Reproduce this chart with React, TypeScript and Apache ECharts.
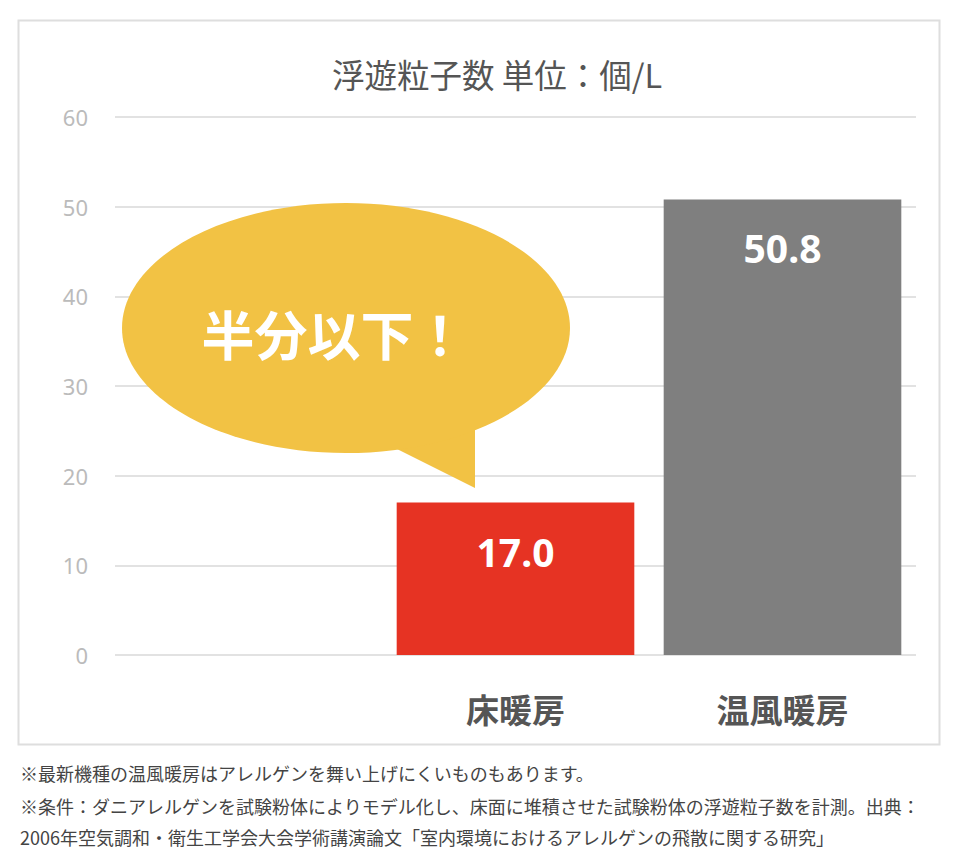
import { useEffect, useRef } from 'react';
import * as echarts from 'echarts';

const categories = ['', '床暖房', '温風暖房'];
const values: (number | null)[] = [null, 17.0, 50.8];
const barColors = ['#E63323', '#E63323', '#7F7F7F'];
const yTicks = { min: 0, max: 60, interval: 10 };

const title = '浮遊粒子数 単位：個/L';
const bubbleText = '半分以下！';
const notes = [
  '※最新機種の温風暖房はアレルゲンを舞い上げにくいものもあります。',
  '※条件：ダニアレルゲンを試験粉体によりモデル化し、床面に堆積させた試験粉体の浮遊粒子数を計測。出典：',
  '2006年空気調和・衛生工学会大会学術講演論文「室内環境におけるアレルゲンの飛散に関する研究」',
];

const FONT = '"Noto Sans CJK JP", "Noto Sans", sans-serif';

export default function App() {
  const ref = useRef<HTMLDivElement>(null);

  useEffect(() => {
    const dom = ref.current!;
    const chart = echarts.init(dom, null, { renderer: 'svg' });

    const noteY = [773, 806, 837];

    chart.setOption({
      animation: false,
      backgroundColor: '#fff',
      textStyle: { fontFamily: FONT },
      grid: { left: 115, right: 48, top: 117, bottom: 205 },
      xAxis: {
        type: 'category',
        data: categories,
        axisLine: { show: false },
        axisTick: { show: false },
        axisLabel: {
          margin: 37,
          fontSize: 33,
          fontWeight: 'bold',
          color: '#555',
          fontFamily: FONT,
        },
      },
      yAxis: {
        type: 'value',
        min: yTicks.min,
        max: yTicks.max,
        interval: yTicks.interval,
        axisLine: { show: false },
        axisTick: { show: false },
        axisLabel: { margin: 27, fontSize: 22, color: '#bbb', fontFamily: '"Noto Sans", sans-serif' },
        splitLine: { lineStyle: { color: '#e2e2e2', width: 2 } },
      },
      series: [
        {
          type: 'bar',
          barCategoryGap: '11%',
          data: values.map((v, i) => ({ value: v, itemStyle: { color: barColors[i] } })),
          label: {
            show: true,
            position: 'insideTop',
            distance: 29,
            color: '#fff',
            fontSize: 39,
            fontWeight: 'bold',
            fontFamily: '"Noto Sans", sans-serif',
            formatter: (p: any) => (p.value == null ? '' : Number(p.value).toFixed(1)),
          },
        },
      ],
      graphic: [
        {
          type: 'rect',
          shape: { x: 18.5, y: 20.5, width: 921, height: 724 },
          style: { fill: 'none', stroke: '#dedede', lineWidth: 2 },
          silent: true,
        },
        {
          type: 'text',
          x: 497,
          y: 73,
          style: {
            text: title,
            fill: '#555',
            fontSize: 32.5,
            fontFamily: FONT,
            align: 'center',
            verticalAlign: 'middle',
          },
        },
        {
          type: 'polygon',
          shape: { points: [[395, 448], [475, 488], [475, 425]] },
          style: { fill: '#F2C244' },
          z: 10,
        },
        {
          type: 'ellipse',
          shape: { cx: 346, cy: 328, rx: 224, ry: 125 },
          style: { fill: '#F2C244' },
          z: 10,
        },
        {
          type: 'text',
          x: 334,
          y: 333,
          z: 11,
          style: {
            text: bubbleText,
            fill: '#fff',
            fontSize: 53,
            fontWeight: 'bold',
            fontFamily: FONT,
            align: 'center',
            verticalAlign: 'middle',
          },
        },
        ...notes.map((t, i) => ({
          type: 'text',
          x: 20,
          y: noteY[i],
          style: {
            text: t,
            fill: '#444',
            fontSize: 18,
            fontFamily: FONT,
            align: 'left',
            verticalAlign: 'middle',
          },
        })),
      ],
    } as echarts.EChartsOption);

    return () => {
      chart.dispose();
    };
  }, []);

  return (
    <div
      ref={ref}
      style={{ position: 'fixed', left: 0, top: 0, width: 964, height: 860 }}
    />
  );
}
